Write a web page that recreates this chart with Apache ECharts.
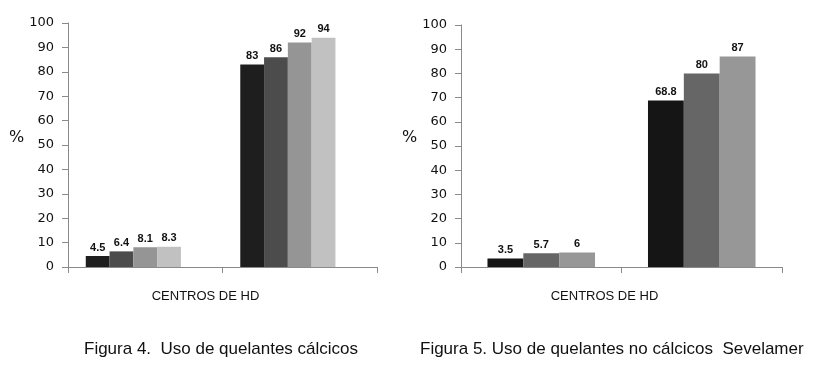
<!DOCTYPE html>
<html>
<head>
<meta charset="utf-8">
<script src="https://cdn.jsdelivr.net/npm/echarts@6/dist/echarts.min.js"></script>
<style>
  html, body { margin: 0; padding: 0; background: #fff; }
  #main { width: 813px; height: 372px; }
</style>
</head>
<body>
<div id="main"></div>
<script>
// two groups per figure (categories unlabeled in the original)
const categories = ['', ''];
const yTicks = { min: 0, max: 100, interval: 10 };

// Figura 4: quelantes cálcicos, four series
const fig4Values = [
  [4.5, 83],
  [6.4, 86],
  [8.1, 92],
  [8.3, 94],
];
// Figura 5: quelantes no cálcicos (Sevelamer), three series
const fig5Values = [
  [3.5, 68.8],
  [5.7, 80],
  [6, 87],
];

const fig4Colors = ['#1e1e1e', '#4c4c4c', '#959595', '#c1c1c1'];
const fig5Colors = ['#151515', '#666666', '#979797'];

const xName = 'CENTROS DE HD';
const captions = ['Figura 4.  Uso de quelantes cálcicos', 'Figura 5. Uso de quelantes no cálcicos  Sevelamer'];

const narrow = "'Liberation Sans Narrow', 'Liberation Sans', Arial, sans-serif";
const axisColor = '#8a8a8a';

function makeXAxis(gridIndex) {
  return {
    type: 'category',
    gridIndex,
    data: categories,
    axisLine: { lineStyle: { color: axisColor, width: 1 } },
    axisTick: { show: true, length: 6, lineStyle: { color: axisColor } },
    axisLabel: { show: false },
    name: xName,
    nameLocation: 'middle',
    nameGap: 23,
    nameTextStyle: { fontFamily: narrow, fontSize: 13, color: '#111', padding: [0, 34, 0, 0] },
  };
}

function makeYAxis(gridIndex) {
  return {
    type: 'value',
    gridIndex,
    min: yTicks.min,
    max: yTicks.max,
    interval: yTicks.interval,
    axisLine: { show: true, lineStyle: { color: axisColor } },
    axisTick: { show: true, length: 6, lineStyle: { color: axisColor } },
    splitLine: { show: false },
    axisLabel: { fontFamily: 'DejaVu Sans', fontSize: 13, color: '#111', margin: 14 },
  };
}

function makeSeries(values, colors, axisIndex, gap) {
  return values.map((vals, i) => ({
    type: 'bar',
    xAxisIndex: axisIndex,
    yAxisIndex: axisIndex,
    data: vals,
    barGap: 0,
    barCategoryGap: gap,
    itemStyle: { color: colors[i] },
    label: {
      show: true,
      position: 'top',
      distance: 3,
      fontFamily: narrow,
      fontWeight: 'bold',
      fontSize: 11,
      color: '#111',
    },
  }));
}

const series = [
  ...makeSeries(fig4Values, fig4Colors, 0, '23%'),
  // empty slot that the original leaves after the fourth bar
  { type: 'bar', xAxisIndex: 0, yAxisIndex: 0, data: [null, null], barGap: 0, barCategoryGap: '23%' },
  ...makeSeries(fig5Values, fig5Colors, 1, '33%'),
];

const myChart = echarts.init(document.getElementById('main'));
myChart.setOption({
  animation: false,
  backgroundColor: '#fff',
  grid: [
    { left: 68, right: 436, top: 23, bottom: 105 },
    { left: 461, right: 31, top: 25, bottom: 105 },
  ],
  xAxis: [makeXAxis(0), makeXAxis(1)],
  yAxis: [makeYAxis(0), makeYAxis(1)],
  series,
  graphic: [
    { type: 'text', left: 9, top: 130, style: { text: '%', fontFamily: 'DejaVu Sans', fontSize: 16, fill: '#111' } },
    { type: 'text', left: 402, top: 130, style: { text: '%', fontFamily: 'DejaVu Sans', fontSize: 16, fill: '#111' } },
    { type: 'text', left: 84, top: 341, style: { text: captions[0], fontFamily: narrow, fontSize: 17, fill: '#111' } },
    { type: 'text', left: 420, top: 341, style: { text: captions[1], fontFamily: narrow, fontSize: 17, fill: '#111' } },
  ],
});
</script>
</body>
</html>
